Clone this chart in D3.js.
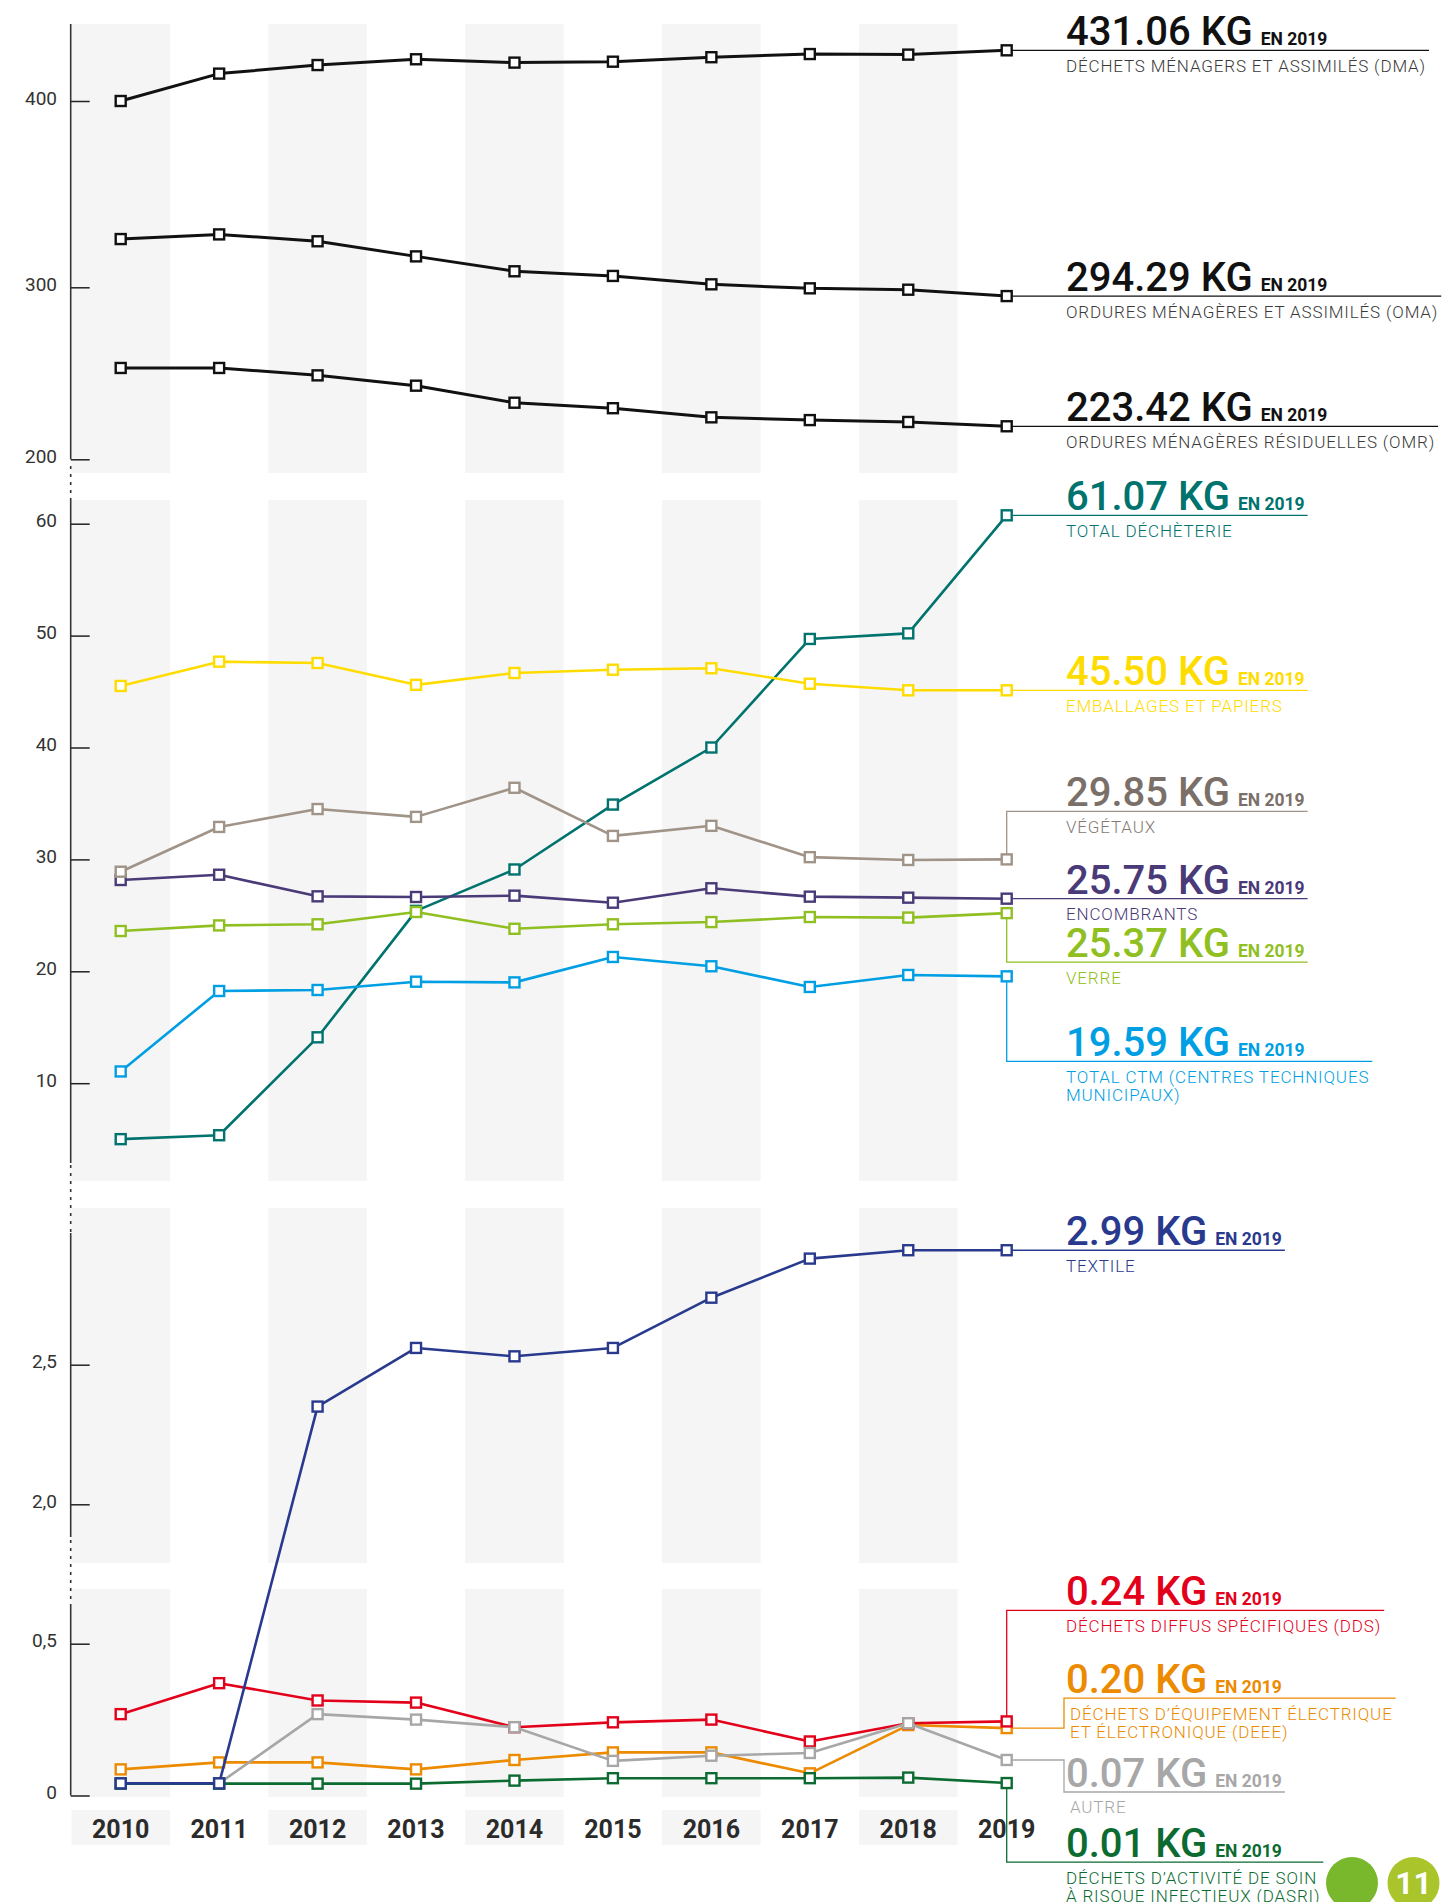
<!DOCTYPE html>
<html>
<head>
<meta charset="utf-8">
<script src="https://cdn.jsdelivr.net/npm/d3@7"></script>
<style>
  body { margin: 0; background: #fff; }
  svg { display: block; font-family: Roboto, "DejaVu Sans", sans-serif; }
</style>
</head>
<body>
<div id="chart"></div>
<script>
// ---- data (kg / habitant) ----
const years = [2010, 2011, 2012, 2013, 2014, 2015, 2016, 2017, 2018, 2019];

// top panel
const dma = [400, 414.7, 419.3, 422.4, 420.6, 421.1, 423.5, 425.2, 424.9, 427.2];
const oma = [325.9, 328.4, 324.7, 316.6, 308.6, 306.1, 301.6, 299.4, 298.6, 294.9];
const omr = [253.1, 253.1, 248.8, 242.8, 232.9, 229.7, 224.4, 222.8, 221.7, 219.2];

// middle panel
const decheterie = [5.0, 5.35, 14.1, 25.4, 29.1, 34.9, 40.0, 49.7, 50.2, 60.75];
const ctm = [11.05, 18.24, 18.33, 19.07, 19.01, 21.28, 20.45, 18.6, 19.67, 19.55];
const verre = [23.6, 24.1, 24.2, 25.3, 23.8, 24.2, 24.4, 24.85, 24.8, 25.2];
const encombrants = [28.16, 28.63, 26.7, 26.64, 26.76, 26.13, 27.42, 26.67, 26.58, 26.49];
const vegetaux = [28.9, 32.9, 34.5, 33.8, 36.4, 32.1, 33.0, 30.2, 29.95, 30.0];
const emballages = [45.5, 47.67, 47.55, 45.6, 46.66, 46.95, 47.08, 45.7, 45.11, 45.11];

// bottom panel
const deee = [0.086, 0.109, 0.109, 0.086, 0.117, 0.142, 0.142, 0.073, 0.232, 0.222];
const dds = [0.268, 0.37, 0.313, 0.306, 0.225, 0.241, 0.25, 0.178, 0.238, 0.244];
const autre = [0.04, 0.04, 0.268, 0.25, 0.225, 0.114, 0.131, 0.14, 0.238, 0.117];
const dasri = [0.039, 0.039, 0.039, 0.039, 0.049, 0.057, 0.057, 0.057, 0.059, 0.041];
const textile = [0.04, 0.04, 2.35, 2.56, 2.53, 2.56, 2.74, 2.88, 2.91, 2.91];

// ticks
const topTicks = [200, 300, 400];
const midTicks = [10, 20, 30, 40, 50, 60];
const lowTicks = [0, 0.5, 2.0, 2.5];
const lowTickLabels = ["0", "0,5", "2,0", "2,5"];

// labels
const series = [
  { id: "dma", values: dma, panel: "top", color: "#111", text: "#111", desc: "#3a3a3a", value: "431.06 KG", lines: ["DÉCHETS MÉNAGERS ET ASSIMILÉS (DMA)"] },
  { id: "oma", values: oma, panel: "top", color: "#111", text: "#111", desc: "#3a3a3a", value: "294.29 KG", lines: ["ORDURES MÉNAGÈRES ET ASSIMILÉS (OMA)"] },
  { id: "omr", values: omr, panel: "top", color: "#111", text: "#111", desc: "#3a3a3a", value: "223.42 KG", lines: ["ORDURES MÉNAGÈRES RÉSIDUELLES (OMR)"] },
  { id: "decheterie", values: decheterie, panel: "mid", color: "#00736e", value: "61.07 KG", lines: ["TOTAL DÉCHÈTERIE"] },
  { id: "ctm", values: ctm, panel: "mid", color: "#009fe3", value: "19.59 KG", lines: ["TOTAL CTM (CENTRES TECHNIQUES", "MUNICIPAUX)"] },
  { id: "verre", values: verre, panel: "mid", color: "#8fbf21", value: "25.37 KG", lines: ["VERRE"] },
  { id: "encombrants", values: encombrants, panel: "mid", color: "#4a3a78", value: "25.75 KG", lines: ["ENCOMBRANTS"] },
  { id: "vegetaux", values: vegetaux, panel: "mid", color: "#a09388", text: "#7b7069", desc: "#857a72", value: "29.85 KG", lines: ["VÉGÉTAUX"] },
  { id: "emballages", values: emballages, panel: "mid", color: "#ffdc00", value: "45.50 KG", lines: ["EMBALLAGES ET PAPIERS"] },
  { id: "deee", values: deee, panel: "low", color: "#ec8a00", value: "0.20 KG", lines: ["DÉCHETS D’ÉQUIPEMENT ÉLECTRIQUE", "ET ÉLECTRONIQUE (DEEE)"] },
  { id: "dds", values: dds, panel: "low", color: "#e3001b", value: "0.24 KG", lines: ["DÉCHETS DIFFUS SPÉCIFIQUES (DDS)"] },
  { id: "autre", values: autre, panel: "low", color: "#a7a7a7", value: "0.07 KG", lines: ["AUTRE"] },
  { id: "dasri", values: dasri, panel: "low", color: "#0b6b31", value: "0.01 KG", lines: ["DÉCHETS D’ACTIVITÉ DE SOIN", "À RISQUE INFECTIEUX (DASRI)"] },
  { id: "textile", values: textile, panel: "low", color: "#293a8e", value: "2.99 KG", lines: ["TEXTILE"] }
];

// where each end label sits relative to its 2019 point
const labelLayout = {
  vegetaux: { type: "vert", dy: -48 },
  verre: { type: "vert", dy: 49 },
  ctm: { type: "vert", dy: 85 },
  dds: { type: "vert", dy: -111 },
  deee: { type: "elbow", dy: -30 },
  autre: { type: "elbow", dy: 32 },
  dasri: { type: "vert", dy: 79 }
};

// ---- layout ----
const W = 1443, H = 1902;
const svg = d3.select("#chart").append("svg").attr("width", W).attr("height", H);

const x = d3.scalePoint().domain(years).range([120.7, 1006.7]);
const step = x.step();

const y = {
  top: d3.scaleLinear().domain([200, 300, 400]).range([459.3, 287.3, 101]),
  mid: d3.scaleLinear().domain([10, 60]).range([1083.2, 523.7]),
  low: d3.scaleLinear().domain([0, 0.5, 2, 2.5]).range([1795.5, 1643.7, 1504.3, 1364.7])
};

// alternating grey columns
const bandRows = [[24, 473], [500, 1181], [1208, 1563], [1589, 1797], [1810, 1845]];
const bg = svg.append("g");
bandRows.forEach(([y0, y1]) => {
  bg.selectAll(null)
    .data(years.filter((d, i) => i % 2 === 0))
    .enter().append("rect")
    .attr("x", d => x(d) - step / 2)
    .attr("width", step)
    .attr("y", y0)
    .attr("height", y1 - y0)
    .attr("fill", "#f5f5f5");
});

// y axis (broken)
const axisX = 70.7;
const solid = [[24, 459.3], [500, 1163], [1233, 1537], [1606, 1795.5]];
const dotted = [[466, 500], [1165, 1233], [1540, 1606]];
const ax = svg.append("g").attr("stroke", "#333").attr("stroke-width", 1.6);
solid.forEach(([a, b]) => ax.append("line").attr("x1", axisX).attr("x2", axisX).attr("y1", a).attr("y2", b));
dotted.forEach(([a, b]) => ax.append("line").attr("x1", axisX).attr("x2", axisX).attr("y1", a).attr("y2", b)
  .attr("stroke-dasharray", "3,5"));

function drawAxis(scale, ticks, fmt) {
  const g = svg.append("g")
    .attr("transform", `translate(${axisX},0)`)
    .call(d3.axisLeft(scale).tickValues(ticks).tickSize(-19).tickPadding(13.7).tickFormat(fmt));
  g.select(".domain").remove();
  g.selectAll(".tick line").attr("stroke", "#222").attr("stroke-width", 1.5);
  g.selectAll(".tick text")
    .attr("dy", "0.16em")
    .attr("font-family", "Roboto, sans-serif")
    .attr("font-size", 19)
    .attr("fill", "#333");
}
drawAxis(y.top, topTicks, d3.format("d"));
drawAxis(y.mid, midTicks, d3.format("d"));
drawAxis(y.low, lowTicks, (d, i) => lowTickLabels[i]);

// year labels
svg.append("g").selectAll("text")
  .data(years)
  .enter().append("text")
  .attr("x", d => x(d))
  .attr("y", 1838.4)
  .attr("text-anchor", "middle")
  .attr("font-size", 25)
  .attr("font-weight", 700)
  .attr("fill", "#2b2b2b")
  .text(d => d);

// end labels + connectors
const labelX = 1066;
const conn = svg.append("g");
const labels = svg.append("g");
series.forEach(s => {
  const sc = y[s.panel];
  const px = x(years[years.length - 1]);
  const py = sc(s.values[s.values.length - 1]);
  const lay = labelLayout[s.id] || { type: "flat", dy: 0 };
  const ly = py + lay.dy;
  const tc = s.text || s.color;
  const dc = s.desc || s.color;

  const g = labels.append("g");
  const big = g.append("text")
    .attr("x", labelX)
    .attr("y", ly - 5)
    .attr("font-size", 40)
    .attr("font-weight", 500)
    .attr("fill", tc)
    .text(s.value);
  big.append("tspan")
    .attr("dx", 8)
    .attr("font-size", 17.5)
    .attr("font-weight", 700)
    .text("EN 2019");

  const descX = lay.type === "elbow" ? 1070 : labelX;
  s.lines.forEach((t, i) => {
    g.append("text")
      .attr("x", descX)
      .attr("y", ly + 21.5 + i * 18)
      .attr("font-size", 17)
      .attr("font-weight", 300)
      .attr("letter-spacing", 0.85)
      .attr("fill", dc)
      .text(t);
  });

  const bb = g.node().getBBox();
  const end = Math.min(W, bb.x + bb.width + 3);

  let d;
  if (lay.type === "vert") d = `M${px},${py}V${ly}H${end}`;
  else if (lay.type === "elbow") d = `M${px},${py}H1064V${ly}H${end}`;
  else d = `M${px},${py}H${end}`;
  conn.append("path")
    .attr("d", d)
    .attr("fill", "none")
    .attr("stroke", s.color)
    .attr("stroke-width", 1.3);
});

// lines + markers
const plot = svg.append("g");
series.forEach(s => {
  const sc = y[s.panel];
  const line = d3.line()
    .x((d, i) => x(years[i]))
    .y(d => sc(d));
  const g = plot.append("g");
  g.append("path")
    .datum(s.values)
    .attr("d", line)
    .attr("fill", "none")
    .attr("stroke", s.color)
    .attr("stroke-width", s.panel === "top" ? 3 : 2.6)
    .attr("stroke-linejoin", "round");
  g.selectAll("rect")
    .data(s.values)
    .enter().append("rect")
    .attr("x", (d, i) => x(years[i]) - 5)
    .attr("y", d => sc(d) - 5)
    .attr("width", 10)
    .attr("height", 10)
    .attr("fill", "#fff")
    .attr("stroke", s.color)
    .attr("stroke-width", 2.4);
});

// page badge
svg.append("circle").attr("cx", 1352).attr("cy", 1883).attr("r", 26).attr("fill", "#79b72c");
svg.append("circle").attr("cx", 1413.5).attr("cy", 1883).attr("r", 26).attr("fill", "#a9c52b");
svg.append("text")
  .attr("x", 1413.5)
  .attr("y", 1894)
  .attr("text-anchor", "middle")
  .attr("font-size", 32)
  .attr("font-weight", 700)
  .attr("fill", "#fff")
  .text("11");
</script>
</body>
</html>
